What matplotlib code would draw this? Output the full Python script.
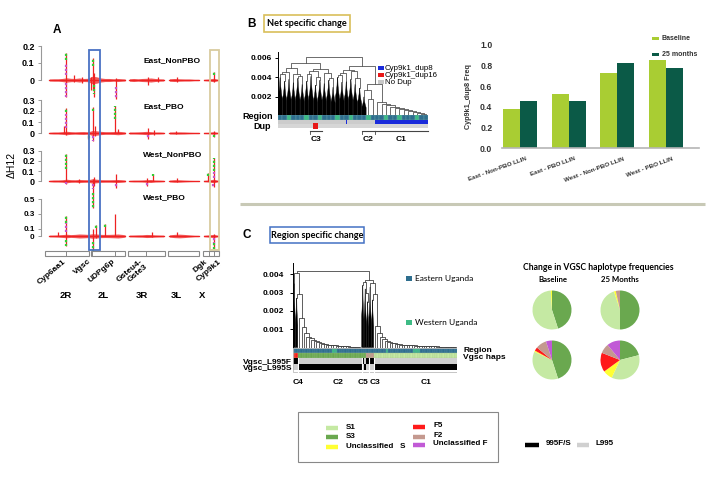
import matplotlib
matplotlib.use('Agg')
import matplotlib.pyplot as plt
import matplotlib.transforms as mtrans
from matplotlib.patches import Rectangle, Polygon
import numpy as np

plt.rcParams['font.family'] = ['Liberation Sans', 'DejaVu Sans']

# ====================== DATA ======================
# ---- Panel A : delta H12 genome scans ----
pop_names = ['East_NonPBO', 'East_PBO', 'West_NonPBO', 'West_PBO']
arm_names = ['2R', '2L', '3R', '3L', 'X']
arm_start = [0, 64, 116, 172, 221]
arm_end = [61, 112, 168, 216, 243]
gene_names = ['Cyp6aa1', 'Vgsc', 'UDPg6p', 'Gsteu4-\nGste3', 'Dgk', 'Cyp9k1']
gene_pos = [29, 66, 98, 141, 229, 236]

win_pos = [6, 12, 18, 24, 30, 36, 42, 48, 54, 60, 66, 72, 78, 84, 90, 96, 102, 108, 112,
           118, 124, 130, 136, 142, 148, 154, 160, 166,
           174, 181, 188, 195, 202, 209, 215,
           222, 229, 236, 242]
amp_east_nonpbo = [0.006, 0.007, 0.007, 0.009, 0.013, 0.010, 0.009, 0.012, 0.009, 0.010, 0.022, 0.019, 0.012, 0.009, 0.009, 0.007, 0.009, 0.007, 0.006,
                   0.007, 0.009, 0.007, 0.009, 0.010, 0.012, 0.009, 0.007, 0.006,
                   0.007, 0.009, 0.007, 0.006, 0.006, 0.004, 0.004,
                   0.004, 0.006, 0.010, 0.004]
amp_east_pbo = [0.007, 0.009, 0.009, 0.012, 0.016, 0.012, 0.010, 0.012, 0.013, 0.010, 0.022, 0.020, 0.015, 0.012, 0.012, 0.013, 0.016, 0.012, 0.009,
                0.009, 0.009, 0.010, 0.012, 0.015, 0.012, 0.009, 0.009, 0.007,
                0.009, 0.010, 0.010, 0.009, 0.007, 0.006, 0.006,
                0.006, 0.007, 0.012, 0.006]
amp_west_nonpbo = [0.007, 0.010, 0.010, 0.012, 0.018, 0.013, 0.012, 0.015, 0.013, 0.012, 0.022, 0.018, 0.013, 0.012, 0.012, 0.013, 0.015, 0.012, 0.009,
                   0.007, 0.009, 0.009, 0.010, 0.013, 0.015, 0.010, 0.009, 0.007,
                   0.009, 0.013, 0.012, 0.009, 0.007, 0.006, 0.006,
                   0.007, 0.010, 0.018, 0.007]
amp_west_pbo = [0.012, 0.013, 0.015, 0.019, 0.024, 0.019, 0.022, 0.027, 0.025, 0.022, 0.030, 0.027, 0.022, 0.021, 0.022, 0.024, 0.027, 0.021, 0.015,
                0.012, 0.013, 0.015, 0.016, 0.021, 0.019, 0.015, 0.013, 0.012,
                0.015, 0.022, 0.025, 0.021, 0.015, 0.010, 0.009,
                0.010, 0.015, 0.022, 0.010]

# spikes: (position Mb, top, bottom)
spikes_east_nonpbo = [(30, 0.16, -0.10), (64, 0.02, -0.06), (67, 0.13, -0.06), (69, 0.04, -0.10),
                      (99, 0.01, -0.11), (236, 0.045, -0.01), (40, 0.03, -0.01), (52, 0.02, -0.02),
                      (144, 0.02, -0.03), (158, 0.02, -0.01), (185, 0.02, -0.01)]
green_east_nonpbo = [(30, 0.12, 0.16), (67, 0.08, 0.13), (69, -0.03, -0.08), (236, 0.03, 0.045)]
purple_east_nonpbo = [(30, -0.02, -0.10), (30, 0.03, 0.10), (99, -0.04, -0.11)]

spikes_east_pbo = [(30, 0.23, -0.02), (27, 0.06, 0.0), (60, 0.01, -0.05), (67, 0.24, -0.07), (70, 0.06, -0.03),
                   (98, 0.25, 0.0), (102, 0.04, 0.0), (144, 0.05, -0.05), (152, 0.03, -0.02),
                   (236, 0.02, -0.04), (183, 0.02, -0.01)]
green_east_pbo = [(30, 0.19, 0.23), (62, -0.03, -0.05), (98, 0.13, 0.25), (67, 0.20, 0.24), (236, -0.02, -0.04)]
purple_east_pbo = [(30, 0.05, 0.17), (67, -0.03, -0.07), (144, -0.02, -0.05)]

spikes_west_nonpbo = [(30, 0.27, -0.03), (67, 0.02, -0.27), (69, 0.04, -0.05), (99, 0.07, -0.07),
                      (143, 0.03, -0.05), (151, 0.07, 0.0), (228, 0.08, 0.0), (236, 0.23, -0.06),
                      (48, 0.02, -0.02), (185, 0.03, -0.01)]
green_west_nonpbo = [(30, 0.12, 0.27), (67, -0.12, -0.27), (151, 0.05, 0.07), (228, 0.05, 0.08), (236, 0.10, 0.23)]
purple_west_nonpbo = [(30, -0.01, -0.03), (67, -0.03, -0.08), (99, -0.03, -0.07), (143, -0.02, -0.05),
                      (236, 0.03, 0.09), (235, -0.03, -0.06)]

spikes_west_pbo = [(30, 0.27, -0.14), (67, 0.10, -0.20), (72, 0.15, -0.03), (84, 0.16, 0.0), (98, 0.30, 0.0),
                   (236, 0.03, -0.18), (18, 0.05, 0.0), (150, 0.05, -0.02), (185, 0.06, 0.0)]
green_west_pbo = [(30, 0.18, 0.27), (30, -0.06, -0.14), (67, -0.08, -0.20), (72, 0.11, 0.15),
                  (84, 0.12, 0.16), (236, -0.10, -0.18)]
purple_west_pbo = [(30, 0.05, 0.17), (236, -0.03, -0.10)]

# ---- Panel B : dendrogram (merge heights, leaves = sub-cluster heights) ----
B_left = [0.0055,
          [0.0050,
           [0.0046, [0.0043, 0.0040, 0.0036], 0.0038],
           [0.0044, 0.0035, [0.0041, 0.0039, 0.0033]]],
          [0.0049,
           [0.0047, [0.0043, 0.0036, 0.0041], [0.0040, 0.0032, 0.0037]],
           [0.0045, 0.0034, [0.0039, 0.0037, 0.0030]]]]
B_mid = [0.0048,
         [0.0045, [0.0042, 0.0040, 0.0035], 0.0036],
         [0.0047, 0.0038, [0.0039, 0.0033, 0.0029]]]
B_C2 = [0.0027, 0.0020, [0.0018, 0.0012, 0.0010]]
B_C1_chain = [0.0015, 0.0013, 0.0012, 0.0010, 0.0009, 0.0008, 0.0007, 0.0006, 0.0005, 0.0004, 0.0003]
B_merges = [0.0061, 0.0052, 0.0033]
B_region = "EEWEEEWEEWEEEWEEWEEEWEEEWEEWEEEWEE"
B_dup8 = [0, 0, 0, 0, 0, 0, 0, 0, 0, 0, 0, 0, 0, 0, 0, 0.25, 0, 0, 0, 0, 0, 0,
          1, 1, 1, 1, 1, 1, 1, 1, 1, 1, 1, 1]
B_dup16 = [0, 0, 0, 0, 0, 0, 0, 0, 1, 0, 0, 0, 0, 0, 0, 0, 0, 0, 0, 0, 0, 0,
           0, 0, 0, 0, 0, 0, 0, 0, 0, 0, 0, 0]
B_clusters = ['C3', 'C2', 'C1']

# ---- Bar chart : Cyp9k1_dup8 frequency ----
bar_groups = ['East - Non-PBO LLIN', 'East - PBO LLIN', 'West - Non-PBO LLIN', 'West - PBO LLIN']
freq_baseline = [0.38, 0.52, 0.73, 0.85]
freq_25months = [0.46, 0.46, 0.83, 0.78]

# ---- Panel C : dendrogram ----
C2_chain = [0.0016, 0.0011, 0.0008, 0.0006, 0.0005, 0.0004, 0.00034, 0.00028, 0.00024, 0.0002,
            0.00018, 0.00016, 0.00014, 0.00012, 0.00011, 0.0001, 0.00009, 0.00008, 0.00007,
            0.00006, 0.00005, 0.00005, 0.00004, 0.00003, 0.00002]
C1_chain = [0.0012, 0.0008, 0.0006, 0.00045, 0.00035, 0.0003, 0.00026, 0.00022, 0.0002, 0.00018,
            0.00016, 0.00015, 0.00014, 0.00013, 0.00012, 0.00011, 0.0001, 0.00009, 0.00009, 0.00008,
            0.00008, 0.00007, 0.00007, 0.00006, 0.00006, 0.00005, 0.00005, 0.00004, 0.00004,
            0.00003, 0.00003, 0.00002, 0.00002]
C4_blobs = [0.0035, 0.0027]
C4_merges = [0.0041, 0.0029]
C5_blobs = [0.0034, 0.0032, 0.0025]
C5_merges = [0.0036, 0.0030]
C3_blobs = [0.0033, 0.0026]
C3_merges = [0.0035, 0.0029]
C_top = [0.0042, 0.0037]
C_region = ("EE" "EEEEEEEEEEEEEE" "WW" "EEEEEEEEEE" "EEE" "EE"
            "EEEEE" "W" "EEEEEEEEEE" "WWW" "EEEEEEEEEEEEEEE")
C_haps = ("rr" "bbbbbbbbbbbbbbbbbbbbbbbbbb" "bbf" "ff"
          "aaaaaaaaaaaaaaaaaaaaaaaaaaaaaaaaaa")
C_l995f = ("11" "00000000000000000000000000" "101" "11"
           "0000000000000000000000000000000000")
C_l995s = ("00" "11111111111111111111111111" "010" "00"
           "1111111111111111111111111111111111")
C_clusters = ['C4', 'C2', 'C5', 'C3', 'C1']

# ---- Pies : VGSC haplotype frequencies ----
hap_names = ['S3', 'S1', 'Unclassified S', 'F5', 'F2', 'Unclassified F']
pie_east_baseline = [45, 54, 1, 0, 0, 0]
pie_east_25m = [50, 45, 1.5, 0, 3.5, 0]
pie_west_baseline = [45, 37, 1, 3, 9, 5]
pie_west_25m = [21, 36, 8, 16, 8, 11]

# ====================== STYLE ======================
RED, GREEN, PURPLE = '#ee2222', '#33cc33', '#c855c8'
C_E, C_W = '#2e6e8e', '#3dbb85'
HAP_COL = {'b': '#6aa84f', 'a': '#c5e9a3', 'y': '#ffff33', 'r': '#ff1a1a', 'f': '#c4998f', 'p': '#c15ad6'}
PIE_COL = ['#6aa84f', '#c5e9a3', '#ffff33', '#ff1a1a', '#c4998f', '#c15ad6']
LIME, DKGREEN = '#a9cd33', '#0b5a47'

W, H = 709, 479
fig = plt.figure(figsize=(W / 100, H / 100), dpi=100)
fig.patch.set_facecolor('white')


def rect(x0, y0, x1, y1):
    return [x0 / W, 1 - y1 / H, (x1 - x0) / W, (y1 - y0) / H]


ov = fig.add_axes([0, 0, 1, 1], zorder=10)
ov.set_xlim(0, W)
ov.set_ylim(H, 0)
ov.axis('off')
ov.patch.set_alpha(0)


def T(x, y, s, size=6.5, weight='bold', ha='center', va='center', family=None, **kw):
    d = dict(ha=ha, va=va, fontsize=size, fontweight=weight)
    if family:
        d['family'] = family
    d.update(kw)
    return ov.text(x, y, s, **d)


# ====================== PANEL A ======================
PX0, MBX = 45, 0.715
xl = ((41 - PX0) / MBX, (222 - PX0) / MBX)
amps = [amp_east_nonpbo, amp_east_pbo, amp_west_nonpbo, amp_west_pbo]
spks = [spikes_east_nonpbo, spikes_east_pbo, spikes_west_nonpbo, spikes_west_pbo]
grns = [green_east_nonpbo, green_east_pbo, green_west_nonpbo, green_west_pbo]
purs = [purple_east_nonpbo, purple_east_pbo, purple_west_nonpbo, purple_west_pbo]
track_lay = [(44, 98, 80, 170, [0, 0.1, 0.2], 6.5), (98, 142, 133, 110, [0, 0.1, 0.2, 0.3], 6.5),
             (150, 196, 181, 100, [0, 0.1, 0.2, 0.3], 6.5), (196, 252, 236, 74, [0, 0.1, 0.3, 0.5], 5.8)]
segments = [(arm_start[0], arm_end[1]), (arm_start[2], arm_end[2]), (arm_start[3], arm_end[3]),
            (arm_start[4], arm_end[4])]
wp = np.array(win_pos, dtype=float)
label_y = [61, 107, 155, 198]
for k, (y0, y1, yz, ppu, ticks, fs) in enumerate(track_lay):
    ax = fig.add_axes(rect(41, y0, 222, y1))
    ax.set_xlim(*xl)
    ax.set_ylim((yz - y1) / ppu, (yz - y0) / ppu)
    ax.patch.set_alpha(0)
    for s in ['top', 'right', 'bottom']:
        ax.spines[s].set_visible(False)
    ax.spines['left'].set_bounds(ticks[0], ticks[-1])
    ax.spines['left'].set_color('#999999')
    ax.spines['left'].set_linewidth(0.8)
    ax.set_xticks([])
    ax.set_yticks(ticks)
    ax.set_yticklabels(['0' if t == 0 else f'{t:g}' for t in ticks], fontsize=fs, fontweight='bold')
    ax.tick_params(axis='y', length=2.5, width=0.7, color='#999999', pad=2)
    a = np.array(amps[k])
    for (s0, s1) in segments:
        m = (wp >= s0) & (wp <= s1)
        ax.fill_between(wp[m], -a[m], a[m], color=RED, lw=0, alpha=0.75)
        ax.plot(wp[m], np.zeros(m.sum()), color=RED, lw=0.9)
    for (p, top, bot) in spks[k]:
        ax.vlines(p, bot, top, color=RED, lw=0.9, clip_on=False)
    for (p, a0, a1) in grns[k]:
        ax.vlines(p, a0, a1, color=GREEN, lw=1.6, clip_on=False, linestyles=(0, (1.0, 0.8)))
    for (p, a0, a1) in purs[k]:
        ax.vlines(p, a0, a1, color=PURPLE, lw=1.6, clip_on=False, linestyles=(0, (1.0, 0.8)))
    T(143, label_y[k], pop_names[k], size=6, ha='left')

# overlay for chromosome bars, highlight boxes and gene labels
axA = fig.add_axes(rect(41, 40, 222, 300), zorder=5)
axA.set_xlim(*xl)
axA.set_ylim(300, 40)
axA.axis('off')
axA.patch.set_alpha(0)
axA.add_patch(Rectangle((62, 50), 15, 200, fill=False, ec='#4a72c4', lw=1.3))
axA.add_patch(Rectangle((231, 50), 12.4, 200, fill=False, ec='#d9cc9f', lw=1.3))
for s0, s1 in zip(arm_start, arm_end):
    axA.add_patch(Rectangle((s0, 251), s1 - s0, 5, fc='white', ec='#888888', lw=0.8))
for g in gene_pos:
    axA.plot([g, g], [251, 256], color='#888888', lw=0.7)
gene_dx = [-3, -4, -3, -6, -4, 4]
for name, g, dx in zip(gene_names, gene_pos, gene_dx):
    axA.text(g + dx / MBX, 258, name, rotation=40, ha='right', va='top', rotation_mode='anchor',
             multialignment='right', fontsize=6, fontweight='bold', linespacing=1.0)
arm_label_x = [66, 103, 142, 176, 202]
for name, x in zip(arm_names, arm_label_x):
    T(x, 295, name, size=6.8)
T(57, 30, 'A', size=8.5)
T(12, 165, 'ΔH12', size=7.5, weight='normal', rotation=90)


# ====================== DENDROGRAM HELPER ======================
def draw_tree(ax, tree, blob_min, link_color, link_lw, wedge_w):
    leaves, links, counter = [], [], [0]

    def lay(node):
        if isinstance(node, list):
            h, a, b = node
            xa, ta = lay(a)
            xb, tb = lay(b)
            links.append((xa, ta, xb, tb, h))
            return (xa + xb) / 2, h
        x = counter[0] + 0.5
        counter[0] += 1
        leaves.append((x, node))
        return x, node

    lay(tree)
    w = wedge_w / 2
    for x, h in leaves:
        if h >= blob_min:
            ax.add_patch(Polygon([(x - w, 0), (x - w, 0.5 * h), (x - 0.6 * w, 0.62 * h),
                                  (x - 0.25 * w, 0.8 * h), (x - 0.08 * w, h), (x + 0.08 * w, h),
                                  (x + 0.25 * w, 0.78 * h), (x + 0.6 * w, 0.6 * h), (x + w, 0.45 * h),
                                  (x + w, 0)],
                                 closed=True, fc='black', ec='black', lw=0.3))
        elif h > 0:
            ax.vlines(x, 0, h, color=link_color, lw=link_lw)
    for xa, ta, xb, tb, h in links:
        ax.plot([xa, xa, xb, xb], [ta, h, h, tb], color=link_color, lw=link_lw)
    return counter[0]


def chain(hs):
    node = 0.0
    for h in reversed(hs):
        node = [h, 0.0, node]
    return node


# ====================== PANEL B ======================
T(252, 24, 'B', size=8.5)
ov.add_patch(Rectangle((264, 15), 86, 17, fill=False, ec='#d9bf5a', lw=1.2))
T(307, 23.5, 'Net specific change', size=6.6, family='Lato')

B_tree = [B_merges[0], B_left, [B_merges[1], B_mid, [B_merges[2], B_C2, chain(B_C1_chain)]]]
axB = fig.add_axes(rect(278, 52, 428, 116.5))
nB = draw_tree(axB, B_tree, 0.0017, '#555555', 0.6, 0.95)
axB.set_xlim(0, nB)
axB.set_ylim(0, 0.0066)
for s in ['top', 'right', 'bottom']:
    axB.spines[s].set_visible(False)
axB.spines['left'].set_linewidth(0.7)
axB.set_xticks([])
axB.set_yticks([0.002, 0.004, 0.006])
axB.set_yticklabels(['0.002', '0.004', '0.006'], fontsize=6, fontweight='bold')
axB.tick_params(axis='y', length=2.5, width=0.7, pad=2)
axB.patch.set_alpha(0)

axBr = fig.add_axes(rect(278, 115, 428, 137))
axBr.set_xlim(0, nB)
axBr.set_ylim(22, 0)
axBr.axis('off')
xs = np.arange(nB) + 0.5
axBr.bar(xs, 5, bottom=0, width=1, color=[C_E if c == 'E' else C_W for c in B_region],
         edgecolor='#6aa0a8', linewidth=0.3)
axBr.bar(xs, 4, bottom=5, width=1, color='#cccccc', linewidth=0)
axBr.bar(xs, 4, bottom=5, width=B_dup8, color='#1a2bdb', linewidth=0)
axBr.bar(xs, 4, bottom=9, width=1, color='#d6d6d6', linewidth=0)
axBr.bar(xs, 6, bottom=8, width=[1.1 * v for v in B_dup16], color='#e81818', linewidth=0)
b_groups = [(7.3, 10), (19, 22), (22, nB)]
for (g0, g1), name in zip(b_groups, B_clusters):
    axBr.plot([g0, g1], [16, 16], color='#444444', lw=0.8, clip_on=False)
    axBr.plot([g0, g0], [16, 19], color='#444444', lw=0.6, clip_on=False)
    axBr.text((g0 + g1) / 2, 25, name, ha='center', va='center',
              fontsize=6, fontweight='bold', clip_on=False)
T(273, 116.5, 'Region', size=6.5, ha='right')
T(271, 126, 'Dup', size=6.5, ha='right')
# legend
for yy, col, lab in [(68, '#1a2bdb', 'Cyp9k1_dup8'), (75, '#e81818', 'Cyp9k1_dup16'), (82, '#c8c8c8', 'No Dup')]:
    ov.add_patch(Rectangle((378, yy - 1.8), 6, 3.6, fc=col, ec='none'))
    T(385, yy, lab, size=5.7, weight='normal', ha='left')

# ====================== BAR CHART ======================
axBar = fig.add_axes(rect(502, 45, 699, 148))
xg = np.arange(len(bar_groups))
axBar.bar(xg - 0.175, freq_baseline, 0.35, color=LIME, linewidth=0)
axBar.bar(xg + 0.175, freq_25months, 0.35, color=DKGREEN, linewidth=0)
axBar.set_xlim(-0.37, 3.68)
axBar.set_ylim(0, 1.0)
for s in ['top', 'right', 'left']:
    axBar.spines[s].set_visible(False)
axBar.spines['bottom'].set_color('#b5b5b5')
axBar.spines['bottom'].set_linewidth(1.2)
axBar.set_yticks([0, 0.2, 0.4, 0.6, 0.8, 1.0])
axBar.set_yticklabels(['0.0', '0.2', '0.4', '0.6', '0.8', '1.0'], fontsize=6.2, fontweight='bold', color='#333333')
axBar.tick_params(axis='y', length=0, pad=7)
axBar.set_xticks(xg)
axBar.set_xticklabels(bar_groups, rotation=20, ha='right', rotation_mode='anchor', fontsize=4.5,
                      fontweight='bold', color='#333333')
axBar.tick_params(axis='x', length=0, pad=6)
off = mtrans.ScaledTranslation(6 / 100, 0, fig.dpi_scale_trans)
for lab in axBar.get_xticklabels():
    lab.set_transform(lab.get_transform() + off)
axBar.set_ylabel('Cyp9k1_dup8 Freq', fontsize=5.2, fontweight='bold', labelpad=6, color='#333333')
ov.add_patch(Rectangle((652, 36.5), 7, 3.5, fc=LIME, ec='none'))
T(662, 38, 'Baseline', size=5, ha='left', color='#333333')
ov.add_patch(Rectangle((652, 52.5), 7, 3.5, fc=DKGREEN, ec='none'))
T(662, 54, '25 months', size=5, ha='left', color='#333333')

# separator
ov.plot([240, 705], [204, 204], color='#c8c9b6', lw=2.2, solid_capstyle='butt')

# ====================== PANEL C ======================
T(247, 235, 'C', size=8.5)
ov.add_patch(Rectangle((270, 227), 94, 16, fill=False, ec='#4472c4', lw=1.1))
T(317, 235, 'Region specific change', size=6.6, family='Lato')

C_tree = [C_top[0],
          [C4_merges[0], C4_blobs[0], [C4_merges[1], C4_blobs[1], chain(C2_chain)]],
          [C_top[1],
           [C5_merges[0], C5_blobs[0], [C5_merges[1], C5_blobs[1], C5_blobs[2]]],
           [C3_merges[0], C3_blobs[0], [C3_merges[1], C3_blobs[1], chain(C1_chain)]]]]
axC = fig.add_axes(rect(293, 263, 457, 347.5))
nC = draw_tree(axC, C_tree, 0.002, '#444444', 0.6, 0.9)
axC.set_xlim(0, nC)
axC.set_ylim(0, 0.00462)
for s in ['top', 'right', 'bottom']:
    axC.spines[s].set_visible(False)
axC.spines['left'].set_linewidth(0.7)
axC.set_xticks([])
axC.set_yticks([0.001, 0.002, 0.003, 0.004])
axC.set_yticklabels(['0.001', '0.002', '0.003', '0.004'], fontsize=6, fontweight='bold')
axC.tick_params(axis='y', length=2.5, width=0.7, pad=4)
axC.patch.set_alpha(0)

axCr = fig.add_axes(rect(293, 347.5, 457, 380))
axCr.set_xlim(0, nC)
axCr.set_ylim(32.5, 0)
axCr.axis('off')
xc = np.arange(nC) + 0.5
axCr.bar(xc, 5, bottom=0.5, width=1, color=[C_E if c == 'E' else C_W for c in C_region],
         edgecolor='#5d8fa8', linewidth=0.25)
axCr.bar(xc, 5, bottom=5.5, width=1, color=[HAP_COL[c] for c in C_haps], edgecolor='#9fbf8a', linewidth=0.2)
axCr.bar(xc, 6, bottom=10.5, width=1, color=['black' if c == '1' else '#cfcfcf' for c in C_l995f], linewidth=0)
axCr.bar(xc, 6, bottom=16.5, width=1, color=['black' if c == '1' else '#cfcfcf' for c in C_l995s], linewidth=0)
axCr.add_patch(Rectangle((0, 0.5), nC, 24, fill=False, ec='#bbbbbb', lw=0.6))
for b in [2, 28, 31, 33]:
    axCr.plot([b, b], [10.5, 24.5], color='white', lw=0.8)
T(463, 350.5, 'Region', size=6, ha='left')
T(463, 357.5, 'Vgsc haps', size=6, ha='left')
T(292, 362, 'Vgsc_L995F', size=6, ha='right')
T(292, 369, 'Vgsc_L995S', size=6, ha='right')
for name, x in zip(C_clusters, [298, 338, 363, 375, 426]):
    T(x, 383, name, size=6)
ov.add_patch(Rectangle((406, 276), 5.5, 5, fc=C_E, ec='none'))
T(415, 278.5, 'Eastern Uganda', size=6, weight='normal', ha='left', family='Lato')
ov.add_patch(Rectangle((406, 320), 5.5, 5, fc=C_W, ec='none'))
T(415, 322.5, 'Western Uganda', size=6, weight='normal', ha='left', family='Lato')

# ====================== PIES ======================
T(598, 267.5, 'Change in VGSC haplotype frequencies', size=6.2, family='Lato')
T(553, 280, 'Baseline', size=5.6, family='Lato')
T(620, 280, '25 Months', size=5.6, family='Lato')
pies = [(552, 310, pie_east_baseline), (620, 310, pie_east_25m),
        (552, 360, pie_west_baseline), (620, 360, pie_west_25m)]
R = 19.5
for cx, cy, vals in pies:
    axp = fig.add_axes(rect(cx - R, cy - R, cx + R, cy + R))
    axp.pie(vals, colors=PIE_COL, startangle=90, counterclock=False, radius=1,
            wedgeprops=dict(linewidth=0))
    axp.set_xlim(-1, 1)
    axp.set_ylim(-1, 1)
    axp.set_aspect('equal')
    axp.axis('off')

# ====================== BOTTOM LEGENDS ======================
ov.add_patch(Rectangle((298, 412), 200, 50, fill=False, ec='#888888', lw=0.8))
leg_left = [(428, 1), (437, 0), (447, 2)]
for yy, idx in leg_left:
    ov.plot([326, 338], [yy, yy], color=PIE_COL[idx], lw=3.2, solid_capstyle='butt')
    T(346, yy - 0.5, hap_names[idx].replace('Unclassified S', 'Unclassified   S'), size=5.8, ha='left')
leg_right = [(427, 3), (437, 4), (445, 5)]
for yy, idx in leg_right:
    ov.plot([413, 425], [yy, yy], color=PIE_COL[idx], lw=3.2, solid_capstyle='butt')
    T(433, yy - 1.5, hap_names[idx], size=5.8, ha='left')
ov.plot([525, 539], [444.5, 444.5], color='black', lw=3.2, solid_capstyle='butt')
T(546, 443.5, '995F/S', size=5.8, ha='left')
ov.plot([577, 589], [444.5, 444.5], color='#d0d0d0', lw=3.2, solid_capstyle='butt')
T(596, 443.5, 'L995', size=5.8, ha='left')

fig.savefig('out.png', dpi=100)
